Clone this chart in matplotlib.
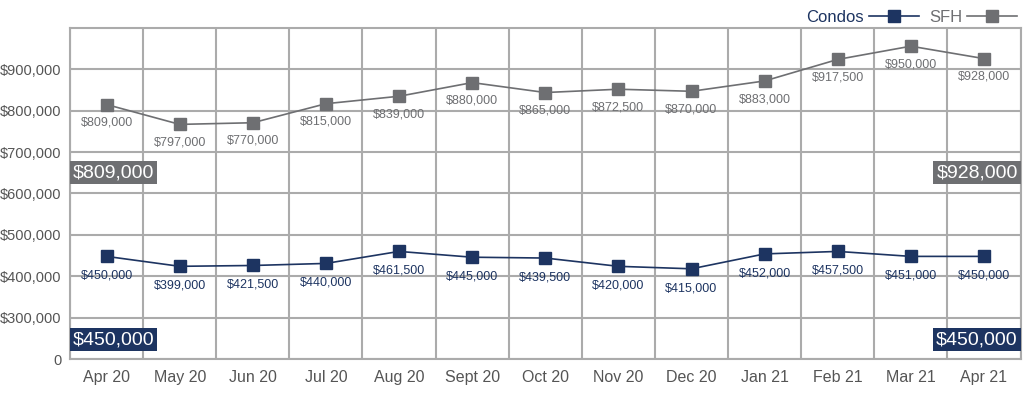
import matplotlib
matplotlib.use("Agg")
import matplotlib.pyplot as plt
from matplotlib.ticker import FixedLocator, FuncFormatter

plt.rcParams['font.family'] = ['Liberation Sans', 'DejaVu Sans']

# Data
months = ['Apr 20', 'May 20', 'Jun 20', 'Jul 20', 'Aug 20', 'Sept 20', 'Oct 20',
          'Nov 20', 'Dec 20', 'Jan 21', 'Feb 21', 'Mar 21', 'Apr 21']
# marker heights as drawn
sfh_vals = [815000, 767000, 771000, 817000, 835000, 868000, 844000,
            852000, 847000, 872000, 924000, 956000, 926000]
condo_vals = [448000, 424000, 426000, 431000, 460000, 446000, 444000,
              424000, 418000, 454000, 460000, 448000, 448000]
# printed value labels
sfh_labels = ['$809,000', '$797,000', '$770,000', '$815,000', '$839,000', '$880,000',
              '$865,000', '$872,500', '$870,000', '$883,000', '$917,500', '$950,000', '$928,000']
condo_labels = ['$450,000', '$399,000', '$421,500', '$440,000', '$461,500', '$445,000',
                '$439,500', '$420,000', '$415,000', '$452,000', '$457,500', '$451,000', '$450,000']
yticks = [200000, 300000, 400000, 500000, 600000, 700000, 800000, 900000]

navy = '#1d3461'
grey = '#6e6f72'
gridc = '#ababab'

fig = plt.figure(figsize=(10.24, 3.93), dpi=100)
ax = fig.add_axes([0.0684, 0.0865, 0.9282, 0.8423])

x = list(range(len(months)))
ax.plot(x, condo_vals, color=navy, lw=1.2, marker='s', ms=8.5, label='Condos', zorder=3)
ax.plot(x, sfh_vals, color=grey, lw=1.2, marker='s', ms=8.5, label='SFH', zorder=3)

for i in x:
    ax.annotate(sfh_labels[i], (i, sfh_vals[i]), xytext=(0, -13), textcoords='offset points',
                ha='center', va='center', fontsize=9, color=grey)
    ax.annotate(condo_labels[i], (i, condo_vals[i]), xytext=(0, -14), textcoords='offset points',
                ha='center', va='center', fontsize=9, color=navy)

# big boxed first / last values
box_kw = dict(fontsize=14, color='white', va='center')
ax.text(0.003, 650000, sfh_labels[0], ha='left', transform=ax.get_yaxis_transform(),
        bbox=dict(boxstyle='square,pad=0.15', fc=grey, ec='none'), **box_kw)
ax.text(0.997, 650000, sfh_labels[-1], ha='right', transform=ax.get_yaxis_transform(),
        bbox=dict(boxstyle='square,pad=0.15', fc=grey, ec='none'), **box_kw)
ax.text(0.003, 247000, condo_labels[0], ha='left', transform=ax.get_yaxis_transform(),
        bbox=dict(boxstyle='square,pad=0.15', fc=navy, ec='none'), **box_kw)
ax.text(0.997, 247000, condo_labels[-1], ha='right', transform=ax.get_yaxis_transform(),
        bbox=dict(boxstyle='square,pad=0.15', fc=navy, ec='none'), **box_kw)

ax.set_xlim(-0.5, len(months) - 0.5)
ax.set_ylim(200000, 1000000)
ax.set_xticks(x)
ax.set_xticklabels(months)
ax.xaxis.set_minor_locator(FixedLocator([i - 0.5 for i in range(len(months) + 1)]))
ax.set_yticks(yticks)
ax.yaxis.set_major_formatter(FuncFormatter(lambda v, p: '0' if v == 200000 else '${:,.0f}'.format(v)))

ax.grid(True, which='minor', axis='x', color=gridc, lw=1.5)
ax.grid(True, which='major', axis='y', color=gridc, lw=1.5)
ax.tick_params(axis='both', which='both', length=0)
ax.tick_params(axis='x', labelsize=11.5, labelcolor='#555555', pad=8)
ax.tick_params(axis='y', labelsize=10.5, labelcolor='#555555', pad=6)
for s in ax.spines.values():
    s.set_color(gridc)
    s.set_linewidth(1.5)
ax.set_axisbelow(True)

leg = ax.legend(loc='lower right', bbox_to_anchor=(1.0, 1.0), ncol=2, frameon=False,
                markerfirst=False, fontsize=12, handlelength=3.0, handletextpad=0.3,
                columnspacing=0.6, borderaxespad=0.1, borderpad=0.1)
for t, c in zip(leg.get_texts(), [navy, grey]):
    t.set_color(c)

plt.savefig('out.png', dpi=100)
